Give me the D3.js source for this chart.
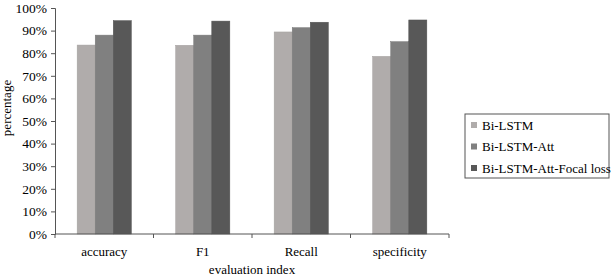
<!DOCTYPE html>
<html>
<head>
<meta charset="utf-8">
<script src="https://cdn.jsdelivr.net/npm/d3@7"></script>
<style>
  body { margin: 0; background: #fff; }
  svg { display: block; font-family: "Liberation Serif", "Times New Roman", serif; }
</style>
</head>
<body>
<svg id="chart"></svg>
<script>
const categories = ["accuracy", "F1", "Recall", "specificity"];
const seriesNames = ["Bi-LSTM", "Bi-LSTM-Att", "Bi-LSTM-Att-Focal loss"];
const biLstm = [0.836, 0.835, 0.894, 0.786];
const biLstmAtt = [0.880, 0.880, 0.913, 0.851];
const biLstmAttFocal = [0.944, 0.942, 0.937, 0.947];
const yTicks = [0, 0.1, 0.2, 0.3, 0.4, 0.5, 0.6, 0.7, 0.8, 0.9, 1.0];
const colors = ["#b0acab", "#808080", "#585858"];

const width = 613, height = 278;
const margin = { left: 55, right: 164, top: 8, bottom: 44 };

const svg = d3.select("#chart").attr("width", width).attr("height", height);

const series = [biLstm, biLstmAtt, biLstmAttFocal];
const data = categories.map((c, i) => ({
  category: c,
  values: series.map((s, j) => ({ name: seriesNames[j], value: s[i], k: j }))
}));

// x bands for categories
const x = d3.scaleBand()
  .domain(categories)
  .range([margin.left, width - margin.right])
  .paddingInner(0.45)
  .paddingOuter(0.225);

const xInner = d3.scaleBand()
  .domain(seriesNames)
  .range([0, x.bandwidth()]);

const y = d3.scaleLinear()
  .domain([0, 1])
  .range([height - margin.bottom, margin.top]);

// bars
const groups = svg.append("g")
  .selectAll("g")
  .data(data)
  .join("g")
  .attr("transform", d => `translate(${x(d.category)},0)`);

groups.selectAll("rect")
  .data(d => d.values)
  .join("rect")
  .attr("x", d => xInner(d.name))
  .attr("y", d => y(d.value))
  .attr("width", xInner.bandwidth())
  .attr("height", d => y(0) - y(d.value))
  .attr("fill", d => colors[d.k])
  .attr("stroke", d => d3.color(colors[d.k]).darker(0.2))
  .attr("stroke-width", 0.5);

// y axis
const yAxis = svg.append("g")
  .attr("transform", `translate(${margin.left},0)`)
  .call(d3.axisLeft(y).tickValues(yTicks).tickFormat(d3.format(".0%")).tickSize(4).tickPadding(4));
yAxis.select(".domain").attr("stroke", "#555");
yAxis.selectAll(".tick line").attr("stroke", "#555");
yAxis.selectAll("text").attr("font-size", 13.5).attr("fill", "#000").attr("font-family", "Liberation Serif");

// x axis with ticks on category boundaries
const xAxis = svg.append("g")
  .attr("transform", `translate(0,${y(0)})`);
xAxis.append("line")
  .attr("x1", margin.left).attr("x2", width - margin.right)
  .attr("stroke", "#555");
const step = x.step();
const boundaries = d3.range(categories.length + 1).map(i => margin.left + i * step);
xAxis.selectAll(".bt")
  .data(boundaries)
  .join("line")
  .attr("x1", d => d).attr("x2", d => d)
  .attr("y1", 0).attr("y2", 4)
  .attr("stroke", "#555");
xAxis.selectAll("text")
  .data(categories)
  .join("text")
  .attr("x", d => x(d) + x.bandwidth() / 2)
  .attr("y", 22)
  .attr("text-anchor", "middle")
  .attr("font-size", 13)
  .attr("fill", "#000")
  .text(d => d);

// axis titles
svg.append("text")
  .attr("x", (margin.left + width - margin.right) / 2)
  .attr("y", 274)
  .attr("text-anchor", "middle")
  .attr("font-size", 13)
  .attr("fill", "#000")
  .text("evaluation index");

svg.append("text")
  .attr("transform", "translate(11,108) rotate(-90)")
  .attr("text-anchor", "middle")
  .attr("font-size", 13)
  .attr("fill", "#000")
  .text("percentage");

// legend
const legend = svg.append("g").attr("transform", "translate(465,114)");
legend.append("rect")
  .attr("width", 144).attr("height", 64)
  .attr("fill", "#fff").attr("stroke", "#555").attr("stroke-width", 1);
const items = legend.selectAll(".item")
  .data(seriesNames)
  .join("g")
  .attr("transform", (d, i) => `translate(6,${8 + i * 21.5})`);
items.append("rect")
  .attr("width", 6).attr("height", 6)
  .attr("fill", (d, i) => colors[i]);
items.append("text")
  .attr("x", 11).attr("y", 7.5)
  .attr("font-size", 13)
  .attr("fill", "#000")
  .text(d => d);
</script>
</body>
</html>
